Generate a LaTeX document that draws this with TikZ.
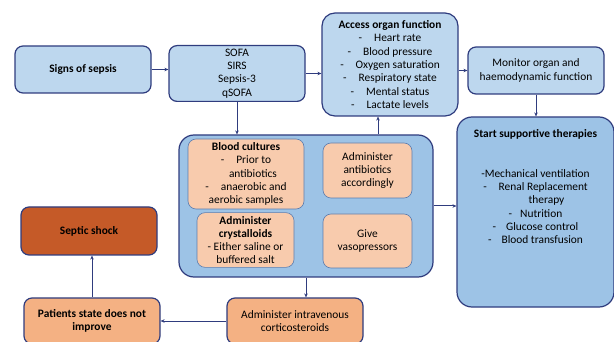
\documentclass[tikz,border=0pt]{standalone}
\usepackage{fontspec}
\setmainfont{Carlito}
\usepackage{xcolor}
\usetikzlibrary{arrows.meta}
\definecolor{navyline}{HTML}{2F3C7E}
\definecolor{paleblue}{HTML}{BDD7EE}
\definecolor{midblue}{HTML}{9DC3E6}
\definecolor{palepeach}{HTML}{F8CBAD}
\definecolor{peach}{HTML}{F4B183}
\definecolor{rust}{HTML}{C55A28}
\definecolor{steelline}{HTML}{5B7DB0}

\begin{document}
\begin{tikzpicture}[x=1pt, y=-1pt, font=\fontsize{11.4}{13.3}\selectfont,
  >={Stealth[length=4pt,width=3.5pt]},
  flowbox/.style={draw=navyline, line width=1.2pt, rounded corners=8pt, align=center, minimum width=136pt},
  bluebox/.style={flowbox, fill=paleblue},
  innerbox/.style={draw=steelline, line width=0.6pt, fill=palepeach, rounded corners=8pt, align=center},
  link/.style={->, draw=navyline, line width=1pt}]
\useasboundingbox (0,0) rectangle (614,342);
% Sepsis care pathway
\node[bluebox, minimum height=47pt] (signs) at (83,69.5) {\textbf{Signs of sepsis}};
\node[bluebox, minimum height=55pt] (sofa) at (237,73.5) {SOFA\\SIRS\\Sepsis-3\\qSOFA};
\node[bluebox, minimum height=103pt, rounded corners=13pt] (access) at (390,64.5)
  {\textbf{Access organ function}\\
   -\hspace{12pt}Heart rate\\
   -\hspace{12pt}Blood pressure\\
   -\hspace{12pt}Oxygen saturation\\
   -\hspace{12pt}Respiratory state\\
   -\hspace{12pt}Mental status\\
   -\hspace{12pt}Lactate levels};
\node[bluebox, minimum height=47pt] (monitor) at (536,70.5) {Monitor organ and\\haemodynamic function};
\node[flowbox, fill=midblue, minimum width=157pt, minimum height=190pt, rounded corners=15pt] (start) at (535.5,212)
  {\textbf{Start supportive therapies}\\[26pt]
   -Mechanical ventilation\\
   -\hspace{12pt}Renal Replacement\\
   \hspace{22pt}therapy\\
   -\hspace{8pt}Nutrition\\
   -\hspace{10pt}Glucose control\\
   -\hspace{10pt}Blood transfusion\\[37pt]\mbox{}};

% treatment bundle
\node[flowbox, fill=midblue, minimum width=254pt, minimum height=142pt, rounded corners=15pt] (bundle) at (306,206) {};
\node[innerbox, minimum width=116pt, minimum height=70pt] (cultures) at (246,174)
  {\textbf{Blood cultures}\\
   -\hspace{12pt}Prior to\\
   \hspace{14pt}antibiotics\\
   -\hspace{12pt}anaerobic and\\
   aerobic samples};
\node[innerbox, minimum width=89pt, minimum height=55pt] (antibio) at (367.5,170.5) {Administer\\antibiotics\\accordingly};
\node[innerbox, minimum width=97pt, minimum height=54pt] (crystal) at (245.5,240)
  {\textbf{Administer}\\\textbf{crystalloids}\\- Either saline or\\buffered salt};
\node[innerbox, minimum width=89pt, minimum height=54pt] (vaso) at (367.5,241) {Give\\vasopressors};

\node[flowbox, fill=peach, minimum height=46pt] (cortico) at (295,321) {Administer intravenous\\corticosteroids};
\node[flowbox, fill=peach, minimum height=46pt] (patient) at (92,321) {\textbf{Patients state does not}\\\textbf{improve}};
\node[flowbox, fill=rust, minimum height=48pt] (shock) at (89,231) {\textbf{Septic shock}};

\draw[link] (signs.east) -- (signs.east -| sofa.west);
\draw[link] (sofa.east) -- (sofa.east -| access.west);
\draw[link] (access.east |- monitor.west) -- (monitor.west);
\draw[link] (monitor.south) -- (monitor.south |- start.north);
\draw[link] (sofa.south) -- (sofa.south |- bundle.north);
\draw[link] ([xshift=-12pt]access.south |- bundle.north) -- ([xshift=-12pt]access.south);
\draw[link] (bundle.east) -- (bundle.east -| start.west);
\draw[link] (bundle.south) -- (bundle.south |- cortico.north);
\draw[link] (cortico.west) -- (patient.east);
\draw[link] (patient.north) -- (patient.north |- shock.south);
\end{tikzpicture}
\end{document}
